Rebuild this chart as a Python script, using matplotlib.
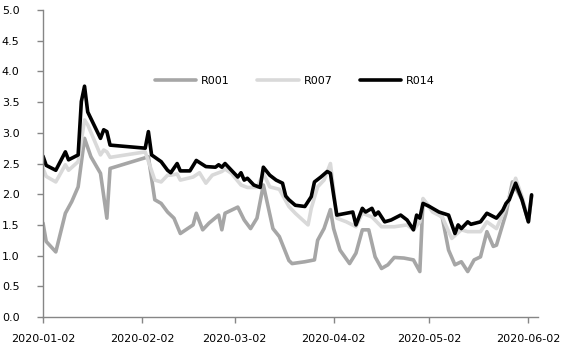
import matplotlib
matplotlib.use("Agg")
import matplotlib.pyplot as plt
import matplotlib.dates as mdates
import pandas as pd

# values, dates as MM-DD in 2020
r014_dates = ["01-02", "01-03", "01-06", "01-09", "01-10", "01-13", "01-14", "01-15", "01-16",
              "01-20", "01-21", "01-22", "01-23", "02-03", "02-04", "02-05", "02-08", "02-10",
              "02-11", "02-13", "02-14", "02-17", "02-19", "02-22", "02-25", "02-26", "02-27",
              "02-28", "03-01", "03-03", "03-04", "03-05", "03-06", "03-08", "03-10", "03-11",
              "03-13", "03-15", "03-17", "03-18", "03-19", "03-21", "03-24", "03-26", "03-27",
              "03-29", "03-31", "04-01", "04-02", "04-03", "04-06", "04-08", "04-09", "04-11",
              "04-12", "04-14", "04-15", "04-16", "04-18", "04-20", "04-23", "04-25", "04-27",
              "04-28", "04-29", "04-30", "05-02", "05-05", "05-08", "05-10", "05-11", "05-12",
              "05-14", "05-15", "05-18", "05-20", "05-23", "05-25", "05-26", "05-27", "05-29",
              "05-31", "06-02", "06-03"]
r014 = [2.62, 2.47, 2.39, 2.69, 2.56, 2.64, 3.51, 3.76, 3.34,
        2.91, 3.05, 3.02, 2.80, 2.75, 3.02, 2.64, 2.53, 2.39,
        2.35, 2.50, 2.38, 2.38, 2.55, 2.45, 2.44, 2.48, 2.44,
        2.50, 2.39, 2.28, 2.35, 2.23, 2.26, 2.15, 2.11, 2.44,
        2.31, 2.23, 2.18, 1.97, 1.91, 1.82, 1.80, 1.96, 2.20,
        2.28, 2.37, 2.34, 1.99, 1.66, 1.69, 1.71, 1.50, 1.77,
        1.71, 1.77, 1.66, 1.71, 1.55, 1.58, 1.66, 1.58, 1.42,
        1.66, 1.61, 1.85, 1.80, 1.71, 1.66, 1.36, 1.50, 1.44,
        1.55, 1.51, 1.55, 1.69, 1.61, 1.74, 1.85, 1.91, 2.18,
        1.91, 1.55, 1.99]

r007_dates = ["01-02", "01-03", "01-06", "01-09", "01-10", "01-13", "01-15", "01-16", "01-20",
              "01-21", "01-22", "01-23", "02-03", "02-06", "02-08", "02-10", "02-11", "02-13",
              "02-14", "02-18", "02-20", "02-22", "02-24", "02-27", "02-28", "03-01", "03-04",
              "03-06", "03-09", "03-11", "03-13", "03-16", "03-19", "03-21", "03-25", "03-26",
              "03-28", "03-30", "04-01", "04-02", "04-03", "04-06", "04-09", "04-11", "04-14",
              "04-17", "04-21", "04-25", "04-27", "04-29", "04-30", "05-03", "05-06", "05-09",
              "05-12", "05-14", "05-18", "05-20", "05-23", "05-26", "05-29", "05-31", "06-02",
              "06-03"]
r007 = [2.42, 2.29, 2.20, 2.48, 2.39, 2.53, 3.21, 3.13, 2.64,
        2.72, 2.69, 2.60, 2.69, 2.23, 2.20, 2.31, 2.31, 2.33,
        2.23, 2.28, 2.35, 2.18, 2.31, 2.37, 2.41, 2.34, 2.15,
        2.11, 2.11, 2.34, 2.12, 2.08, 1.80, 1.69, 1.50, 1.77,
        2.12, 2.23, 2.50, 2.07, 1.61, 1.55, 1.47, 1.69, 1.63,
        1.47, 1.47, 1.50, 1.42, 1.55, 1.93, 1.71, 1.63, 1.28,
        1.42, 1.39, 1.39, 1.55, 1.44, 1.80, 2.26, 1.96, 1.58,
        1.97]

r001_dates = ["01-02", "01-03", "01-06", "01-09", "01-11", "01-13", "01-15", "01-17", "01-20",
              "01-22", "01-23", "02-04", "02-06", "02-08", "02-10", "02-12", "02-14", "02-18",
              "02-19", "02-21", "02-23", "02-26", "02-27", "02-28", "03-03", "03-05", "03-07",
              "03-09", "03-11", "03-14", "03-16", "03-19", "03-20", "03-24", "03-27", "03-28",
              "03-30", "04-01", "04-02", "04-04", "04-07", "04-09", "04-11", "04-13", "04-15",
              "04-17", "04-19", "04-21", "04-24", "04-27", "04-29", "04-30", "05-03", "05-06",
              "05-08", "05-10", "05-12", "05-14", "05-16", "05-18", "05-20", "05-22", "05-23",
              "05-26", "05-28", "05-31", "06-02", "06-03"]
r001 = [1.53, 1.23, 1.06, 1.69, 1.88, 2.12, 2.91, 2.61, 2.34,
        1.61, 2.42, 2.61, 1.91, 1.85, 1.71, 1.61, 1.36, 1.50,
        1.69, 1.42, 1.53, 1.66, 1.42, 1.69, 1.79, 1.58, 1.44,
        1.61, 2.15, 1.44, 1.31, 0.92, 0.87, 0.90, 0.93, 1.25,
        1.44, 1.75, 1.44, 1.09, 0.87, 1.04, 1.42, 1.42, 0.98,
        0.79, 0.85, 0.97, 0.96, 0.93, 0.74, 1.91, 1.74, 1.63,
        1.09, 0.85, 0.90, 0.74, 0.93, 0.98, 1.39, 1.15, 1.17,
        1.69, 2.20, 1.91, 1.55, 1.97]

labels = ["R001", "R007", "R014"]
colors = ["#a6a6a6", "#d9d9d9", "#000000"]


def to_dates(mmdd):
    return pd.to_datetime(["2020-" + d for d in mmdd])


plt.rcParams["font.family"] = "DejaVu Sans"
plt.rcParams["font.size"] = 8

fig = plt.figure(figsize=(5.66, 3.47), dpi=100)
ax = fig.add_axes([0.076, 0.0865, 0.8745, 0.8845])

series = [(r001_dates, r001), (r007_dates, r007), (r014_dates, r014)]
for (d, v), lab, c in zip(series, labels, colors):
    ax.plot(to_dates(d), v, color=c, lw=2.6, label=lab, solid_capstyle="round")

ax.set_ylim(0, 5)
ax.set_yticks([0, 0.5, 1, 1.5, 2, 2.5, 3, 3.5, 4, 4.5, 5])
ax.yaxis.set_major_formatter(matplotlib.ticker.FormatStrFormatter("%.1f"))

ax.set_xlim(pd.Timestamp("2020-01-02"), pd.Timestamp("2020-06-05"))
ax.set_xticks(pd.to_datetime(["2020-01-02", "2020-02-02", "2020-03-02",
                              "2020-04-02", "2020-05-02", "2020-06-02"]))
ax.xaxis.set_major_formatter(mdates.DateFormatter("%Y-%m-%d"))

for s in ["top", "right"]:
    ax.spines[s].set_visible(False)
for s in ["left", "bottom"]:
    ax.spines[s].set_color("#868686")
    ax.spines[s].set_linewidth(1)
ax.tick_params(axis="both", colors="#868686", labelcolor="black", length=4, width=1)
ax.tick_params(axis="y", pad=13)
ax.tick_params(axis="x", pad=8)

ax.legend(loc="center", bbox_to_anchor=(0.509, 0.769), ncol=3, frameon=False,
          handlelength=3.7, handletextpad=0.45, columnspacing=2.5)

fig.savefig("out.png", dpi=100)
